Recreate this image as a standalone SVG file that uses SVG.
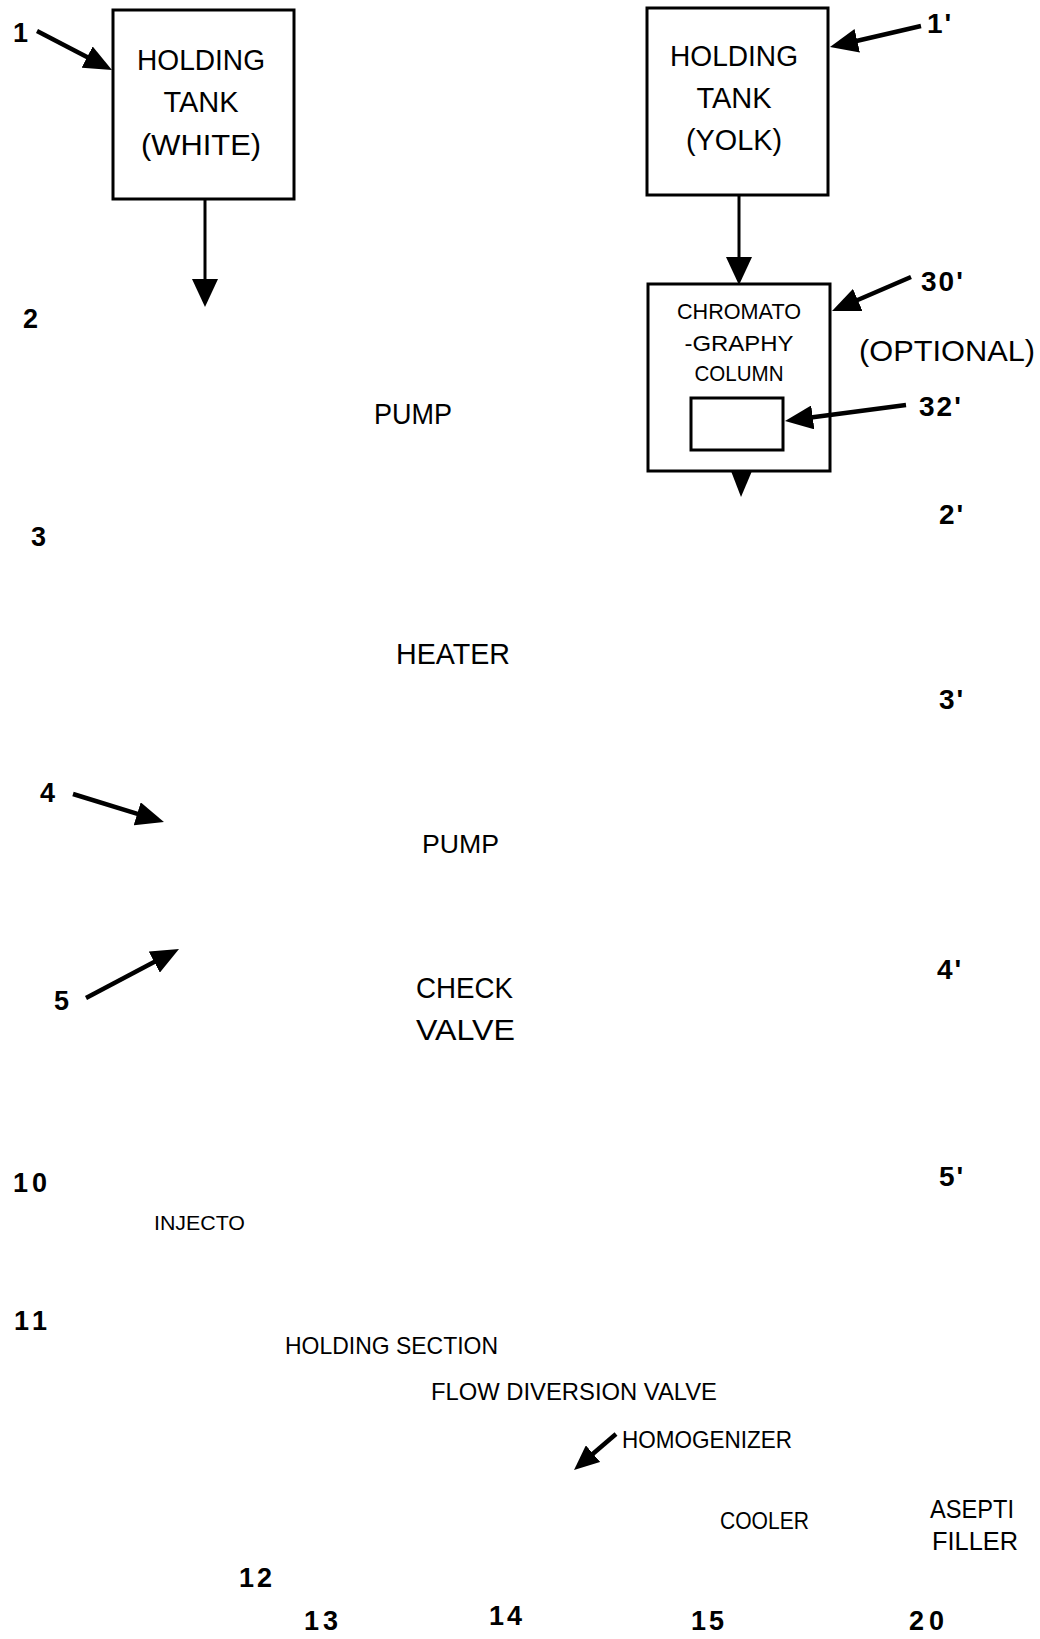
<svg xmlns="http://www.w3.org/2000/svg" width="1040" height="1639" viewBox="0 0 1040 1639">
<style>
text{font-family:"Liberation Sans",Arial,sans-serif;fill:#000}
.box{fill:#fff;stroke:#000;stroke-width:3}
.lbl{font-size:29px;text-anchor:middle}
.chr{font-size:22px;text-anchor:middle}
.num{font-size:27px;font-weight:bold;letter-spacing:2px}
.pr{font-size:28px;font-weight:bold;letter-spacing:2px}
.step{font-size:24px}
.arr{stroke:#000;stroke-width:4.5;fill:none;marker-end:url(#head)}
.varr{stroke:#000;stroke-width:3;fill:none;marker-end:url(#vhead)}
.sarr{stroke:#000;stroke-width:4.5;fill:none;marker-end:url(#shead)}
</style>
<defs>
<marker id="head" markerUnits="userSpaceOnUse" markerWidth="28" markerHeight="24" refX="2" refY="12" orient="auto"><path d="M0,0 L28,12 L0,24 z" fill="#000"/></marker>
<marker id="vhead" markerUnits="userSpaceOnUse" markerWidth="28" markerHeight="26" refX="2" refY="13" orient="auto"><path d="M0,0 L28,13 L0,26 z" fill="#000"/></marker>
<marker id="shead" markerUnits="userSpaceOnUse" markerWidth="25" markerHeight="22" refX="2" refY="11" orient="auto"><path d="M0,0 L25,11 L0,22 z" fill="#000"/></marker>
</defs>
<rect width="1040" height="1639" fill="#fff"/>

<g id="tank-white">
<rect class="box" x="113" y="10" width="181" height="189"/>
<text class="lbl" x="201" y="70" textLength="128" lengthAdjust="spacingAndGlyphs">HOLDING</text>
<text class="lbl" x="201" y="112">TANK</text>
<text class="lbl" x="201" y="155" textLength="120" lengthAdjust="spacingAndGlyphs">(WHITE)</text>
</g>

<g id="tank-yolk">
<rect class="box" x="647" y="8" width="181" height="187"/>
<text class="lbl" x="734" y="66" textLength="128" lengthAdjust="spacingAndGlyphs">HOLDING</text>
<text class="lbl" x="734" y="108">TANK</text>
<text class="lbl" x="734" y="150" textLength="96" lengthAdjust="spacingAndGlyphs">(YOLK)</text>
</g>

<g id="chromatography-column">
<rect class="box" x="648" y="284" width="182" height="187"/>
<text class="chr" x="739" y="319" textLength="124" lengthAdjust="spacingAndGlyphs">CHROMATO</text>
<text class="chr" x="739" y="351" textLength="109" lengthAdjust="spacingAndGlyphs">-GRAPHY</text>
<text class="chr" x="739" y="381" textLength="89" lengthAdjust="spacingAndGlyphs">COLUMN</text>
<rect class="box" x="691" y="398" width="92" height="52"/>
</g>

<g id="pump-1"><text class="lbl" x="374" y="424" style="text-anchor:start" textLength="78" lengthAdjust="spacingAndGlyphs">PUMP</text></g>
<g id="heater"><text class="lbl" x="396" y="664" style="text-anchor:start" textLength="114" lengthAdjust="spacingAndGlyphs">HEATER</text></g>
<g id="pump-2"><text class="lbl" x="422" y="853" style="text-anchor:start;font-size:26px" textLength="77" lengthAdjust="spacingAndGlyphs">PUMP</text></g>
<g id="check-valve">
<text class="lbl" x="416" y="998" style="text-anchor:start" textLength="97" lengthAdjust="spacingAndGlyphs">CHECK</text>
<text class="lbl" x="416" y="1040" style="text-anchor:start" textLength="99" lengthAdjust="spacingAndGlyphs">VALVE</text>
</g>
<g id="injector"><text x="154" y="1230" style="font-size:21px" textLength="91" lengthAdjust="spacingAndGlyphs">INJECTO</text></g>
<g id="holding-section"><text class="step" x="285" y="1354" textLength="213" lengthAdjust="spacingAndGlyphs">HOLDING SECTION</text></g>
<g id="flow-diversion-valve"><text class="step" x="431" y="1400" textLength="286" lengthAdjust="spacingAndGlyphs">FLOW DIVERSION VALVE</text></g>
<g id="homogenizer"><text class="step" x="622" y="1448" textLength="170" lengthAdjust="spacingAndGlyphs">HOMOGENIZER</text></g>
<g id="cooler"><text class="step" x="720" y="1529" textLength="89" lengthAdjust="spacingAndGlyphs">COOLER</text></g>
<g id="aseptic-filler">
<text x="930" y="1518" style="font-size:26px" textLength="84" lengthAdjust="spacingAndGlyphs">ASEPTI</text>
<text x="932" y="1550" style="font-size:26px" textLength="86" lengthAdjust="spacingAndGlyphs">FILLER</text>
</g>
<g id="optional-note"><text x="859" y="361" style="font-size:30px" textLength="176" lengthAdjust="spacingAndGlyphs">(OPTIONAL)</text></g>

<g id="reference-numerals">
<text class="num" x="13" y="42">1</text>
<text class="num" x="23" y="328">2</text>
<text class="num" x="31" y="546">3</text>
<text class="num" x="40" y="802">4</text>
<text class="num" x="54" y="1010">5</text>
<text class="num" x="13" y="1192" textLength="36">10</text>
<text class="num" x="14" y="1330" textLength="35">11</text>
<text class="num" x="239" y="1587" textLength="35">12</text>
<text class="num" x="304" y="1630" textLength="36">13</text>
<text class="num" x="489" y="1625" textLength="35">14</text>
<text class="num" x="691" y="1630" textLength="35">15</text>
<text class="num" x="909" y="1630" textLength="37">20</text>
<text class="pr" x="927" y="33">1'</text>
<text class="pr" x="921" y="291">30'</text>
<text class="pr" x="919" y="416">32'</text>
<text class="pr" x="939" y="524">2'</text>
<text class="pr" x="939" y="709">3'</text>
<text class="pr" x="937" y="979">4'</text>
<text class="pr" x="939" y="1186">5'</text>
</g>

<g id="connectors">
<line class="arr" x1="37" y1="31" x2="88.9" y2="58"/>
<line class="varr" x1="205" y1="199" x2="205" y2="281"/>
<line class="arr" x1="921" y1="26" x2="855.3" y2="41.2"/>
<line class="varr" x1="739" y1="195" x2="739" y2="259"/>
<line class="arr" x1="911" y1="277" x2="855.9" y2="300.7"/>
<line class="arr" x1="906" y1="405" x2="810.8" y2="417.6"/>
<polygon points="731,471 752,471 741,497" fill="#000"/>
<line class="arr" x1="73" y1="794" x2="139.1" y2="814.4"/>
<line class="arr" x1="86" y1="998" x2="156" y2="961.1"/>
<line class="sarr" x1="616" y1="1434" x2="591.5" y2="1455"/>
</g>
</svg>
